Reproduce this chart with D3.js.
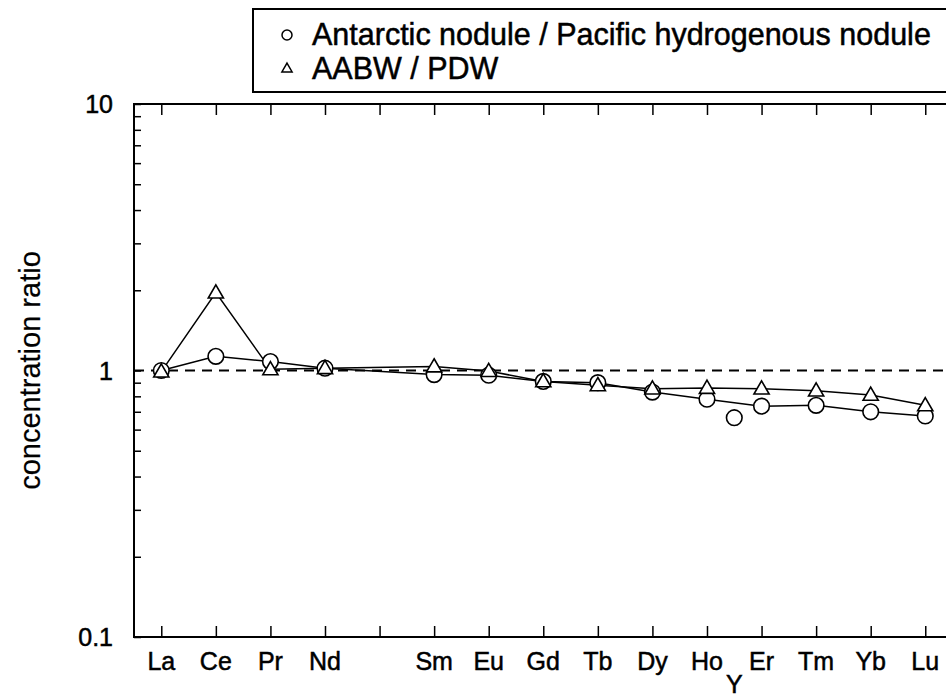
<!DOCTYPE html>
<html lang="en">
<head>
    <meta charset="UTF-8">
    <script src="https://d3js.org/d3.v7.min.js"></script>
    <title>REE concentration ratio</title>
    <style>
        body { margin: 0; background: white; }
        text { font-family: "Liberation Sans", Arial, sans-serif; fill: black; stroke: black; stroke-width: 0.5px; }
    </style>
</head>
<body>
    <div class="fig"></div>
    <script>
        // rare earth elements, Pm has no label and no data
        const elements = ["La", "Ce", "Pr", "Nd", "", "Sm", "Eu", "Gd", "Tb", "Dy", "Ho", "Er", "Tm", "Yb", "Lu"];
        const noduleRatio = [1.00, 1.13, 1.08, 1.02, null, 0.965, 0.96, 0.91, 0.90, 0.83, 0.78, 0.735, 0.74, 0.70, 0.675];
        const waterRatio = [0.99, 1.96, 1.01, 1.02, null, 1.035, 0.995, 0.91, 0.88, 0.855, 0.86, 0.855, 0.84, 0.81, 0.74];
        // yttrium sits between Ho and Er, only nodule value
        const yttrium = { label: "Y", pos: 10.5, nodule: 0.665 };
        const yTicks = [0.1, 1, 10];
        const legendLabels = ["Antarctic nodule / Pacific hydrogenous nodule", "AABW / PDW"];

        const width = 946, height = 697;
        const margin = { left: 134, top: 104, bottom: 637 };

        const svg = d3.select(".fig").append("svg")
            .attr("width", width)
            .attr("height", height);

        const x = d3.scaleLinear().domain([-0.5, 14.5]).range([margin.left, margin.left + 15 * 54.57]);
        const y = d3.scaleLog().domain([0.1, 10]).range([margin.bottom, margin.top]);

        const axisG = svg.append("g");
        // frame
        axisG.append("rect")
            .attr("x", x(-0.5)).attr("y", y(10))
            .attr("width", x(14.5) - x(-0.5)).attr("height", y(0.1) - y(10))
            .attr("fill", "none").attr("stroke", "black").attr("stroke-width", 2);

        // bottom and top axes: inward ticks
        const xb = d3.axisBottom(x).tickValues(d3.range(15)).tickSize(-11).tickFormat("");
        axisG.append("g").attr("transform", `translate(0,${y(0.1)})`).call(xb)
            .call(g => g.select(".domain").remove())
            .call(g => g.selectAll("line").attr("stroke-width", 1.5));
        const xt = d3.axisTop(x).tickValues(d3.range(15)).tickSize(-11).tickFormat("");
        axisG.append("g").attr("transform", `translate(0,${y(10)})`).call(xt)
            .call(g => g.select(".domain").remove())
            .call(g => g.selectAll("line").attr("stroke-width", 1.5));

        // left axis log ticks
        const minor = [];
        [0.1, 1].forEach(d => { for (let k = 1; k <= 9; k++) minor.push(d * k); });
        minor.push(10);
        const yl = d3.axisLeft(y).tickValues(minor).tickSize(-7).tickFormat("");
        axisG.append("g").attr("transform", `translate(${x(-0.5)},0)`).call(yl)
            .call(g => g.select(".domain").remove())
            .call(g => g.selectAll("line").attr("stroke-width", 1.5));

        axisG.selectAll(".ylab")
            .data(yTicks)
            .enter().append("text")
            .attr("x", 113)
            .attr("y", d => y(d))
            .attr("dy", "0.36em")
            .attr("text-anchor", "end")
            .style("font-size", "25px")
            .text(d => d);

        axisG.selectAll(".xlab")
            .data(elements)
            .enter().append("text")
            .attr("x", (d, i) => x(i))
            .attr("y", 670)
            .attr("text-anchor", "middle")
            .style("font-size", "25px")
            .text(d => d);
        axisG.append("text")
            .attr("x", x(yttrium.pos))
            .attr("y", 693)
            .attr("text-anchor", "middle")
            .style("font-size", "25px")
            .text(yttrium.label);

        svg.append("text")
            .attr("transform", `translate(40,${y(1)}) rotate(-90)`)
            .attr("text-anchor", "middle")
            .style("font-size", "29px")
            .style("stroke-width", "0.2px")
            .text("concentration ratio");

        // reference line at ratio 1
        svg.append("line")
            .attr("x1", x(-0.5)).attr("x2", x(14.5))
            .attr("y1", y(1)).attr("y2", y(1))
            .attr("stroke", "black").attr("stroke-width", 2)
            .attr("stroke-dasharray", "10,7");

        const line = d3.line().x(d => x(d[0])).y(d => y(d[1]));
        const nodulePts = noduleRatio.map((v, i) => [i, v]).filter(d => d[1] != null);
        const waterPts = waterRatio.map((v, i) => [i, v]).filter(d => d[1] != null);

        svg.append("path").attr("d", line(nodulePts))
            .attr("fill", "none").attr("stroke", "black").attr("stroke-width", 1.5);
        svg.append("path").attr("d", line(waterPts))
            .attr("fill", "none").attr("stroke", "black").attr("stroke-width", 1.5);

        const tri = d3.symbol().type(d3.symbolTriangle).size(100);

        svg.selectAll(".circ")
            .data(nodulePts.concat([[yttrium.pos, yttrium.nodule]]))
            .enter().append("circle")
            .attr("cx", d => x(d[0]))
            .attr("cy", d => y(d[1]))
            .attr("r", 7.8)
            .attr("fill", "white").attr("stroke", "black").attr("stroke-width", 1.6);

        svg.selectAll(".tri")
            .data(waterPts)
            .enter().append("path")
            .attr("d", tri)
            .attr("transform", d => `translate(${x(d[0])},${y(d[1]) + 1})`)
            .attr("fill", "white").attr("stroke", "black").attr("stroke-width", 1.6);

        // legend
        const leg = svg.append("g");
        leg.append("rect")
            .attr("x", 253).attr("y", 9)
            .attr("width", 720).attr("height", 83)
            .attr("fill", "white").attr("stroke", "black").attr("stroke-width", 2);
        leg.append("circle")
            .attr("cx", 287).attr("cy", 35).attr("r", 5)
            .attr("fill", "none").attr("stroke", "black").attr("stroke-width", 1.5);
        leg.append("path")
            .attr("d", d3.symbol().type(d3.symbolTriangle).size(45))
            .attr("transform", "translate(287,69)")
            .attr("fill", "none").attr("stroke", "black").attr("stroke-width", 1.5);
        leg.selectAll(".ltxt")
            .data(legendLabels)
            .enter().append("text")
            .attr("x", 312)
            .attr("y", (d, i) => 45 + i * 34)
            .style("font-size", "30.5px")
            .text(d => d);
    </script>
</body>
</html>
